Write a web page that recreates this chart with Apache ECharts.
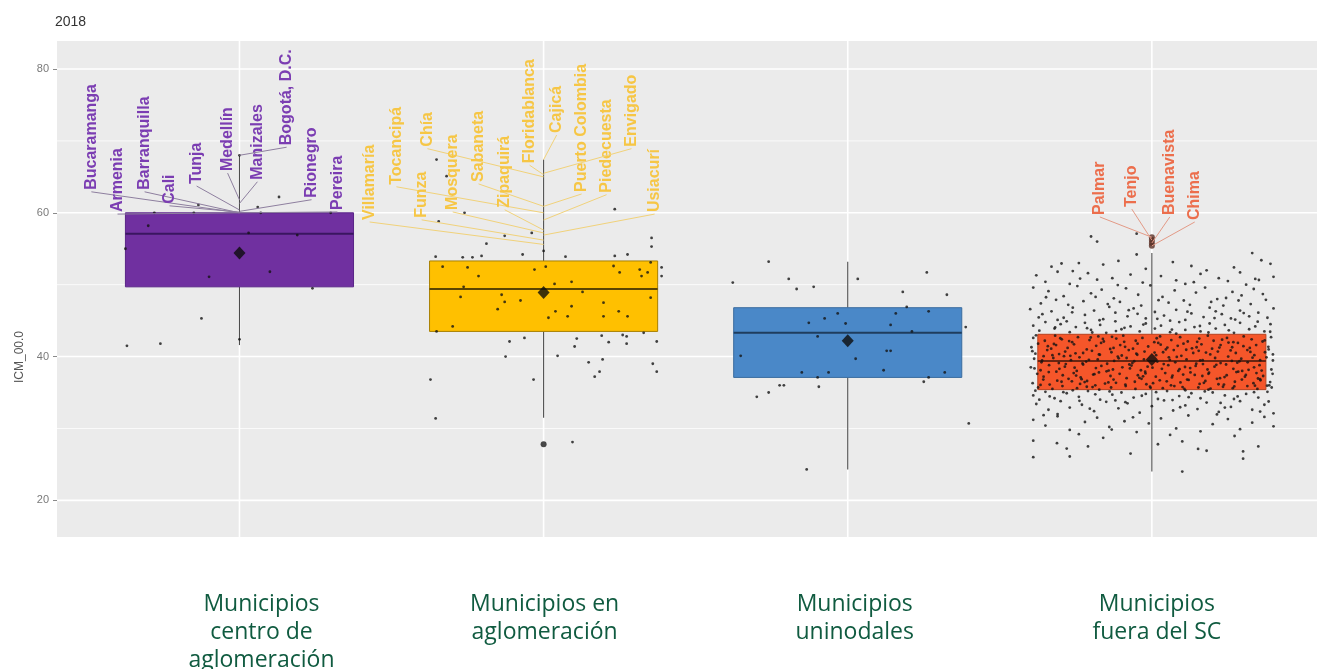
<!DOCTYPE html>
<html><head><meta charset="utf-8">
<script src="https://cdn.jsdelivr.net/npm/echarts@6/dist/echarts.min.js"></script>
<style>html,body{margin:0;padding:0;background:#fff}#c{width:1317px;height:669px}</style>
</head><body><div id="c"></div>
<script>
// ---------------- data ----------------
const categories = ['Municipios\ncentro de\naglomeración', 'Municipios en\naglomeración', 'Municipios\nuninodales', 'Municipios\nfuera del SC'];
const boxLow = [41.6, 31.5, 24.3, 24.0];
const boxQ1 = [49.7, 43.5, 37.1, 35.4];
const boxMedian = [57.1, 49.4, 43.3, 39.4];
const boxQ3 = [60.0, 53.3, 46.8, 43.1];
const boxHigh = [68.0, 67.4, 53.2, 54.4];
const means = [54.4, 48.9, 42.2, 39.6];
const outlierGroup = [2, 4, 4, 4, 4];
const outlierValue = [27.8, 56.6, 56.2, 55.8, 55.4];
const yTickValues = [20, 40, 60, 80];
const yMinorValues = [30, 50, 70];

// jittered points: [offset from category, value]
const purpleJitter = [[-0.37,41.5],[-0.26,41.8],[-0.125,45.3],[0,42.4],[-0.30,58.2],[-0.375,55.0],[-0.10,51.1],[0.10,51.8],[0.03,57.2],[0.19,56.9],[0.24,49.5],[-0.28,60.0],[-0.15,60.0],[0.07,60.0],[0.30,60.0],[0.06,60.8],[-0.135,61.1],[0.13,62.2],[0,68.0]];
const yellowJitter = [[-0.372,36.8],[-0.355,31.4],[-0.112,42.1],[-0.125,40.0],[-0.063,42.6],[-0.033,36.8],[0.046,40.1],[0.109,42.5],[0.102,41.4],[0.148,39.2],[0.194,39.6],[0.184,37.9],[0.168,37.2],[0.191,42.9],[0.214,42.0],[0.26,43.0],[0.273,42.8],[0.273,41.8],[0.329,43.3],[0.372,42.1],[0.359,39.0],[0.372,37.9],[0.095,28.1],[-0.352,43.5],
[-0.332,52.5],[-0.25,52.4],[-0.214,51.2],[-0.263,49.7],[-0.273,48.3],[-0.138,48.6],[-0.128,47.6],[-0.151,46.6],[-0.076,47.8],[-0.03,52.1],[0.007,52.5],[0.036,50.1],[0.092,50.4],[0.128,49.0],[0.039,46.3],[0.016,45.4],[0.079,45.6],[0.092,47.0],[0.197,47.5],[0.197,45.6],[0.247,46.3],[0.276,45.6],[0.23,52.6],[0.25,51.7],[0.316,52.1],[0.322,51.2],[0.342,51.7],[0.352,48.2],[-0.299,44.2],[0.352,53.1],[0.388,52.4],[0.388,51.2],
[-0.355,53.9],[-0.266,53.8],[-0.234,53.8],[-0.204,54.0],[-0.069,54.2],[0,54.7],[0.072,53.9],[0.234,54.0],[0.276,54.2],[0.355,55.3],[0.355,56.5],[-0.188,55.7],[-0.345,58.8],[-0.26,60.0],[-0.128,56.8],[-0.039,57.2],[0.234,60.5],[-0.352,67.4],[-0.319,65.1]];
const blueJitter = [[-0.26,53.2],[-0.378,50.3],[-0.194,50.8],[-0.168,49.4],[-0.112,49.7],[0.033,50.8],[0.26,51.7],[0.181,49.0],[0.326,48.6],[0.194,46.9],[0.266,46.3],[0.158,46.0],[-0.033,46.0],[-0.076,45.3],[-0.128,44.7],[-0.007,44.6],[0.141,44.4],[0.211,43.5],[0.388,44.1],[-0.099,42.8],[0.128,40.8],[0.141,40.8],[-0.352,40.1],[0.026,39.7],[-0.151,37.8],[-0.063,37.8],[0.118,38.1],[0.319,37.8],[-0.099,37.1],[0.266,37.1],[0.25,36.5],[-0.224,36.0],[-0.21,36.0],[-0.095,35.8],[-0.26,35.0],[-0.299,34.4],[0.398,30.7],[-0.135,24.3]];
const orangeAbove = [[-0.05,54.2],[0.33,54.4],[-0.24,53.0],[0.39,52.9],[0.36,53.4],[-0.33,52.5],[0.13,52.6],[-0.16,52.8],[-0.02,52.2],[0.18,52.0],[0.27,52.4],[-0.11,53.3],[-0.38,51.3],[-0.31,51.8],[-0.21,51.6],[-0.13,50.9],[-0.07,51.4],[0.03,51.2],[0.08,50.6],[0.16,51.5],[0.22,50.9],[0.29,51.7],[0.34,50.8],[0.40,51.1],[-0.35,50.4],[-0.27,50.1],[-0.18,50.7],[-0.03,50.3],[0.11,50.1],[0.25,50.5],[0.31,50.0],[-0.26,51.9],
[-0.39,49.6],[-0.34,49.1],[-0.29,48.4],[-0.245,49.8],[-0.20,48.8],[-0.165,49.3],[-0.125,48.1],[-0.085,49.5],[-0.045,48.6],[-0.005,49.9],[0.035,48.3],[0.075,49.2],[0.105,47.8],[0.145,48.9],[0.175,49.6],[0.215,48.0],[0.265,49.0],[0.295,48.5],[0.335,49.4],[0.375,47.9],[-0.365,47.4],[-0.315,47.9],[-0.275,47.2],[-0.225,47.7],[-0.145,47.3],[-0.105,47.6],[-0.035,47.1],[0.055,47.5],[0.125,47.2],[0.195,47.6],[0.235,47.1],[0.285,47.8],[0.325,47.3],[0.365,48.7],[-0.185,48.3],
[-0.40,46.6],[-0.36,45.9],[-0.33,46.3],[-0.29,45.4],[-0.26,46.8],[-0.22,45.8],[-0.19,46.4],[-0.16,45.2],[-0.12,46.1],[-0.08,45.6],[-0.06,46.7],[-0.02,45.3],[0.01,46.2],[0.04,45.7],[0.08,46.5],[0.11,45.1],[0.13,46.0],[0.17,45.5],[0.19,46.8],[0.23,45.9],[0.26,45.3],[0.29,46.4],[0.32,45.6],[0.35,46.1],[0.38,45.4],[0.40,46.7],[-0.31,45.1],[0.06,45.0],[0.21,46.3],[-0.14,46.9],
[-0.39,44.3],[-0.37,43.6],[-0.35,44.8],[-0.32,43.9],[-0.30,44.5],[-0.27,43.4],[-0.25,44.1],[-0.22,44.7],[-0.20,43.7],[-0.17,44.4],[-0.15,43.3],[-0.12,44.9],[-0.10,43.8],[-0.07,44.2],[-0.04,43.5],[-0.02,44.6],[0.01,43.9],[0.03,44.3],[0.06,43.4],[0.09,44.8],[0.11,43.7],[0.14,44.1],[0.16,43.5],[0.19,44.6],[0.21,43.9],[0.24,44.4],[0.27,43.3],[0.29,44.7],[0.32,43.8],[0.34,44.2],[0.37,43.5],[0.39,44.5],[-0.28,44.9],[0.08,43.2],[-0.09,44.0],
[-0.05,57.1],[-0.20,56.7],[-0.18,56.0]];
const orangeAbove2 = [[-0.372,45.45],[-0.318,44.05],[-0.262,46.15],[-0.213,43.95],[-0.172,45.05],[-0.118,43.55],[-0.076,46.45],[-0.028,44.45],[0.018,45.25],[0.066,43.75],[0.117,46.25],[0.158,44.25],[0.206,45.35],[0.253,43.65],[0.302,46.05],[0.348,44.85],[0.389,43.45],[-0.348,48.25],[-0.236,50.85],[-0.112,49.95],[0.022,47.85],[0.138,50.35],[0.244,48.15],[0.352,50.65],[-0.297,52.95],[0.069,53.15],[-0.196,43.35],[0.274,45.15],[0.186,43.35],[-0.047,45.95]];
const orangeBox = [[-0.39,42.6],[-0.352,42.2],[-0.318,42.9],[-0.296,42.4],[-0.262,42.0],[-0.243,42.7],[-0.205,42.3],[-0.176,42.8],[-0.158,42.1],[-0.117,42.5],[-0.094,42.9],[-0.053,42.2],[-0.031,42.6],[0.008,42.0],[0.027,42.8],[0.064,42.3],[0.093,42.7],[0.118,42.1],[0.156,42.5],[0.184,42.9],[0.203,42.2],[0.247,42.6],[0.268,42.0],[0.302,42.8],[0.328,42.4],[0.364,42.1],[0.392,42.7],
[-0.396,41.3],[-0.374,41.8],[-0.331,41.1],[-0.315,41.6],[-0.277,41.2],[-0.256,41.7],[-0.214,41.0],[-0.183,41.5],[-0.167,41.9],[-0.126,41.2],[-0.104,41.6],[-0.062,41.1],[-0.047,41.8],[-0.012,41.4],[0.021,41.9],[0.046,41.0],[0.085,41.5],[0.104,41.8],[0.147,41.3],[0.163,41.7],[0.198,41.1],[0.226,41.6],[0.264,41.3],[0.283,41.9],[0.322,41.2],[0.343,41.6],[0.384,41.0],
[-0.383,40.4],[-0.344,40.9],[-0.327,40.2],[-0.285,40.7],[-0.268,40.1],[-0.226,40.5],[-0.197,40.8],[-0.174,40.3],[-0.133,40.6],[-0.112,40.0],[-0.076,40.9],[-0.051,40.4],[-0.024,40.7],[0.014,40.2],[0.037,40.6],[0.072,40.9],[0.097,40.1],[0.136,40.5],[0.154,40.8],[0.192,40.3],[0.217,40.7],[0.251,40.0],[0.276,40.5],[0.314,40.9],[0.337,40.2],[0.372,40.6],[0.398,40.3],
[-0.387,39.7],[-0.363,39.2],[-0.324,39.8],[-0.306,39.1],[-0.266,39.5],[-0.238,39.9],[-0.216,39.3],[-0.178,39.6],[-0.147,39.0],[-0.124,39.4],[-0.083,39.8],[-0.064,39.1],[-0.026,39.6],[0.018,39.3],[0.056,39.9],[0.077,39.2],[0.114,39.6],[0.146,39.0],[0.167,39.5],[0.208,39.8],[0.226,39.1],[0.263,39.4],[0.294,39.7],[0.315,39.2],[0.356,39.5],[0.377,39.9],
[-0.398,38.5],[-0.366,38.1],[-0.338,38.8],[-0.304,38.3],[-0.286,38.6],[-0.247,38.0],[-0.226,38.9],[-0.184,38.4],[-0.166,38.7],[-0.128,38.2],[-0.097,38.5],[-0.074,38.9],[-0.036,38.1],[-0.014,38.6],[0.033,38.3],[0.054,38.8],[0.087,38.0],[0.126,38.4],[0.144,38.7],[0.183,38.2],[0.206,38.6],[0.244,38.9],[0.268,38.3],[0.297,38.0],[0.336,38.5],[0.354,38.8],[0.393,38.2],
[-0.377,37.6],[-0.356,37.2],[-0.314,37.9],[-0.293,37.4],[-0.257,37.7],[-0.234,37.1],[-0.193,37.5],[-0.174,37.8],[-0.136,37.3],[-0.106,37.6],[-0.083,37.0],[-0.046,37.4],[-0.022,37.9],[0.013,37.2],[0.044,37.7],[0.066,37.1],[0.103,37.5],[0.127,37.8],[0.166,37.3],[0.186,37.6],[0.224,37.0],[0.246,37.4],[0.284,37.9],[0.306,37.2],[0.344,37.7],[0.366,37.3],[0.397,37.6],
[-0.392,36.3],[-0.357,36.8],[-0.336,36.1],[-0.297,36.5],[-0.274,36.9],[-0.236,36.2],[-0.213,36.6],[-0.186,36.0],[-0.143,36.4],[-0.126,36.8],[-0.087,36.1],[-0.056,36.5],[-0.034,36.9],[0.004,36.3],[0.026,36.7],[0.063,36.0],[0.094,36.4],[0.116,36.8],[0.157,36.2],[0.176,36.6],[0.214,36.9],[0.237,36.1],[0.273,36.5],[0.296,36.8],[0.334,36.3],[0.357,36.7],[0.386,36.0],
[-0.374,35.7],[-0.327,35.5],[-0.294,35.9],[-0.246,35.6],[-0.214,35.8],[-0.173,35.4],[-0.134,35.7],[-0.086,35.9],[-0.054,35.5],[-0.006,35.8],[0.036,35.6],[0.074,35.9],[0.107,35.5],[0.153,35.7],[0.186,35.4],[0.234,35.8],[0.266,35.6],[0.314,35.9],[0.347,35.5],[0.394,35.7]];
const orangeBox2 = [[-0.381,42.95],[-0.342,41.45],[-0.305,40.35],[-0.283,38.95],[-0.249,37.35],[-0.221,36.45],[-0.195,35.75],[-0.161,42.45],[-0.137,41.05],[-0.109,39.75],[-0.072,38.35],[-0.041,37.05],[-0.018,36.15],[0.016,42.55],[0.051,41.25],[0.082,39.95],[0.109,38.55],[0.141,37.45],[0.171,36.35],[0.193,35.55],[0.231,42.35],[0.259,40.85],[0.288,39.35],[0.318,38.15],[0.349,36.95],[0.379,35.95],
[-0.393,40.75],[-0.361,39.45],[-0.339,37.85],[-0.311,36.65],[-0.272,42.15],[-0.251,40.45],[-0.228,39.05],[-0.189,37.55],[-0.154,36.25],[-0.131,42.75],[-0.099,40.15],[-0.067,38.75],[-0.029,37.25],[-0.004,35.65],[0.029,41.65],[0.059,39.55],[0.091,38.25],[0.121,36.75],[0.149,42.05],[0.178,40.55],[0.212,38.85],[0.239,37.15],[0.271,35.85],[0.301,41.45],[0.331,39.85],[0.361,38.05],[0.389,36.45],
[-0.386,38.35],[-0.366,36.05],[-0.322,41.75],[-0.289,40.05],[-0.254,38.45],[-0.231,36.85],[-0.201,42.65],[-0.171,40.25],[-0.142,38.05],[-0.118,36.35],[-0.088,41.35],[-0.058,39.35],[-0.021,37.65],[0.009,40.55],[0.039,38.95],[0.068,37.35],[0.101,35.75],[0.132,41.15],[0.159,39.45],[0.188,37.75],[0.219,36.15],[0.252,41.95],[0.281,39.15],[0.309,37.45],[0.339,35.95],[0.371,42.25],[0.398,39.45],
[-0.356,40.05],[-0.301,42.55],[-0.263,36.55],[-0.207,39.55],[-0.149,37.95],[-0.091,42.05],[-0.048,40.25],[0.002,38.45],[0.049,36.55],[0.113,40.95],[0.168,38.95],[0.222,41.25],[0.278,37.85],[0.324,40.65],[0.356,36.85],[0.383,41.35]];
const orangeBelow = [[-0.39,34.6],[-0.35,35.1],[-0.32,34.2],[-0.28,34.9],[-0.24,34.4],[-0.21,35.2],[-0.17,34.0],[-0.13,34.7],[-0.10,35.0],[-0.06,34.3],[-0.02,34.8],[0.02,34.1],[0.05,35.2],[0.09,34.5],[0.13,34.9],[0.16,34.2],[0.20,35.0],[0.24,34.6],[0.27,34.1],[0.31,34.8],[0.35,34.3],[0.38,35.1],[-0.26,35.3],[0.11,35.3],[-0.37,34.0],
[-0.38,33.4],[-0.34,32.6],[-0.30,33.8],[-0.27,32.9],[-0.23,33.3],[-0.19,32.4],[-0.15,33.7],[-0.11,32.8],[-0.08,33.5],[-0.04,32.2],[0.00,33.1],[0.04,33.9],[0.07,32.5],[0.11,33.2],[0.15,32.7],[0.18,33.6],[0.22,32.3],[0.26,33.0],[0.29,33.8],[0.33,32.6],[0.37,33.3],[0.40,32.1],[-0.12,33.9],[0.24,32.9],[-0.31,32.0],
[-0.39,31.2],[-0.35,30.4],[-0.31,31.7],[-0.27,29.8],[-0.22,30.9],[-0.18,31.5],[-0.14,30.2],[-0.09,31.0],[-0.05,29.5],[-0.01,30.7],[0.03,31.4],[0.08,30.0],[0.12,31.8],[0.16,29.6],[0.20,30.6],[0.25,31.3],[0.29,29.9],[0.33,30.8],[0.37,31.6],[0.40,30.3],[-0.24,29.2],[0.06,29.1],
[-0.39,28.3],[-0.28,27.2],[-0.16,28.7],[-0.07,26.5],[0.02,27.8],[0.10,28.2],[0.18,26.9],[0.30,26.8],[0.35,27.5],[-0.39,26.0],[-0.27,26.1],[-0.21,27.5],[0.10,24.0],[0.30,25.8]];
const orangeBelow2 = [[-0.383,35.25],[-0.336,34.45],[-0.291,35.05],[-0.238,33.85],[-0.186,34.75],[-0.139,35.15],[-0.087,33.65],[-0.033,34.55],[0.014,35.05],[0.068,33.95],[0.121,34.35],[0.174,35.15],[0.226,33.55],[0.282,34.45],[0.336,35.05],[0.384,33.75],[-0.356,31.85],[-0.204,32.75],[-0.062,31.55],[0.093,32.95],[0.214,31.95],[0.356,32.35],[-0.132,29.85],[0.272,28.95],[-0.312,27.95],[0.152,27.15]];

// repelled labels: names and the value each one points at
const labelNames = [
  ['Bucaramanga','Armenia','Barranquilla','Cali','Tunja','Medellín','Manizales','Bogotá, D.C.','Rionegro','Pereira'],
  ['Villamaría','Tocancipá','Funza','Chía','Mosquera','Sabaneta','Zipaquirá','Floridablanca','Cajicá','Puerto Colombia','Piedecuesta','Envigado','Usiacurí'],
  [],
  ['Palmar','Tenjo','Buenavista','Chima']
];
const labelTargets = [
  [60.0,60.0,60.0,60.1,60.4,61.8,61.3,68.0,60.2,60.0],
  [55.6,60.0,56.2,65.0,57.2,60.9,57.6,65.3,67.4,60.9,59.0,65.5,56.9],
  [],
  [56.6,56.2,55.8,55.4]
];
// label placement (repel layout): offset from category, value at the label's lower end
const labelLayoutDx = [
  [-0.487,-0.401,-0.312,-0.230,-0.141,-0.039,0.059,0.155,0.237,0.322],
  [-0.572,-0.484,-0.401,-0.382,-0.299,-0.214,-0.128,-0.046,0.043,0.125,0.207,0.289,0.365],
  [],
  [-0.171,-0.066,0.059,0.141]
];
const labelLayoutBase = [
  [63.2,60.1,63.2,61.25,64.0,65.8,64.6,69.4,62.1,60.4],
  [59.0,63.9,59.3,69.2,60.4,64.3,60.7,66.9,71.1,62.9,62.8,69.2,60.1],
  [],
  [59.7,60.8,59.7,59.0]
];

// ---------------- styles ----------------
const X_MIN = 0.4, X_MAX = 4.543, Y_MIN = 14.9, Y_MAX = 83.9;
const fills = ['#7030a0', '#ffc000', '#4a88c8', '#f5562a'];
const borders = ['#5a2588', '#a77f00', '#3a6c9f', '#b9421f'];
const medians = ['#3a1660', '#5c4500', '#1f3d5e', '#6a2512'];
const labelColors = ['#7b3db2', '#f6c645', null, '#ec6e4c'];
const segColors = ['#8e7f9f', '#f1d27a', null, '#e39a86'];
const labelOffsets = [22, 1, 7, 5];

const chart = echarts.init(document.getElementById('c'), null, {renderer: 'canvas'});

const gridData = [];
yTickValues.forEach(v => gridData.push([0, v]));
yMinorValues.forEach(v => gridData.push([1, v]));
[1, 2, 3, 4].forEach(c => gridData.push([2, c]));

const boxData = categories.map((c, i) => [i + 1, boxLow[i], boxQ1[i], boxMedian[i], boxQ3[i], boxHigh[i]]);

const jitterData = [];
[purpleJitter, yellowJitter, blueJitter, orangeAbove.concat(orangeAbove2, orangeBox, orangeBox2, orangeBelow, orangeBelow2)].forEach((arr, i) => {
  arr.forEach(([dx, v]) => jitterData.push([i + 1 + dx, v]));
});

const labelData = [];
const labelMeta = [];
labelNames.forEach((names, g) => {
  names.forEach((n, k) => {
    labelData.push([g + 1 + labelLayoutDx[g][k], labelLayoutBase[g][k], g + 1, labelTargets[g][k]]);
    labelMeta.push({name: n, g: g});
  });
});

const catRich = {};
labelOffsets.forEach((o, i) => {
  catRich['c' + i] = {padding: [0, 0, 0, o * 2], fontSize: 23, lineHeight: 28, color: '#105b40', fontFamily: '"Open Sans", "Noto Sans", sans-serif'};
});

chart.setOption({
  animation: false,
  backgroundColor: '#ffffff',
  grid: {left: 57, right: 0, top: 41, bottom: 132, show: true, backgroundColor: '#ebebeb', borderWidth: 0, containLabel: false, outerBoundsMode: 'none'},
  xAxis: {
    type: 'value', min: X_MIN, max: X_MAX,
    axisLine: {show: false}, axisTick: {show: false}, splitLine: {show: false},
    axisLabel: {
      customValues: [1, 2, 3, 4], margin: 53,
      formatter: v => {
        const i = Math.round(v) - 1;
        return categories[i].split('\n').map(s => '{c' + i + '|' + s + '}').join('\n');
      },
      rich: catRich
    }
  },
  yAxis: {
    type: 'value', min: Y_MIN, max: Y_MAX,
    axisLine: {show: false}, splitLine: {show: false},
    axisTick: {show: true, customValues: yTickValues, length: 4, lineStyle: {color: '#8a8a8a', width: 1}},
    axisLabel: {customValues: yTickValues, margin: 8, color: '#7a7a7a', fontSize: 11, fontFamily: '"Liberation Sans", Arial, sans-serif'}
  },
  graphic: [
    {type: 'text', left: 55, top: 15, style: {text: '2018', fill: '#333', font: '14px "Liberation Sans", Arial, sans-serif'}},
    {type: 'text', x: 20, y: 357, rotation: Math.PI / 2, style: {text: 'ICM_00.0', fill: '#555', font: '12px "Liberation Sans", Arial, sans-serif', align: 'center', verticalAlign: 'middle'}}
  ],
  series: [
    {
      type: 'custom', silent: true, z: 1, data: gridData,
      renderItem: (params, api) => {
        const kind = api.value(0), v = api.value(1);
        let p0, p1;
        if (kind === 2) { p0 = api.coord([v, Y_MIN]); p1 = api.coord([v, Y_MAX]); }
        else { p0 = api.coord([X_MIN, v]); p1 = api.coord([X_MAX, v]); }
        return {type: 'line', shape: {x1: p0[0], y1: p0[1], x2: p1[0], y2: p1[1]},
          style: {stroke: '#ffffff', lineWidth: kind === 1 ? 0.8 : 1.6}};
      }
    },
    {
      type: 'custom', silent: true, z: 2, data: boxData,
      encode: {x: 0, y: [1, 2, 3, 4, 5]},
      renderItem: (params, api) => {
        const i = params.dataIndex;
        const x = api.value(0), hw = 0.375;
        const low = api.coord([x, api.value(1)]);
        const q1 = api.coord([x, api.value(2)]);
        const med = api.coord([x, api.value(3)]);
        const q3 = api.coord([x, api.value(4)]);
        const high = api.coord([x, api.value(5)]);
        const l = api.coord([x - hw, api.value(4)]);
        const r = api.coord([x + hw, api.value(2)]);
        return {type: 'group', children: [
          {type: 'line', shape: {x1: low[0], y1: low[1], x2: q1[0], y2: q1[1]}, style: {stroke: '#4d4d4d', lineWidth: 1.1}},
          {type: 'line', shape: {x1: q3[0], y1: q3[1], x2: high[0], y2: high[1]}, style: {stroke: '#4d4d4d', lineWidth: 1.1}},
          {type: 'rect', shape: {x: l[0], y: l[1], width: r[0] - l[0], height: r[1] - l[1]}, style: {fill: fills[i], stroke: borders[i], lineWidth: 1}},
          {type: 'line', shape: {x1: l[0], y1: med[1], x2: r[0], y2: med[1]}, style: {stroke: medians[i], lineWidth: 2}}
        ]};
      }
    },
    {
      type: 'scatter', z: 3, silent: true, data: jitterData,
      symbol: 'circle', symbolSize: 2.8,
      itemStyle: {color: '#141414', opacity: 0.8}
    },
    {
      type: 'scatter', z: 4, silent: true,
      data: means.map((m, i) => [i + 1, m]),
      symbol: 'diamond', symbolSize: [12, 13],
      itemStyle: {color: '#0d0d0d'}
    },
    {
      type: 'scatter', z: 4, silent: true,
      data: outlierValue.map((v, i) => [outlierGroup[i], v]),
      symbolSize: 6,
      itemStyle: {color: p => p.data[0] === 4 ? '#5a2f26' : '#1c1c1c'}
    },
    {
      type: 'custom', silent: true, z: 5, data: labelData,
      renderItem: (params, api) => {
        const meta = labelMeta[params.dataIndex];
        const a = api.coord([api.value(0), api.value(1)]);
        const b = api.coord([api.value(2), api.value(3)]);
        return {type: 'group', children: [
          {type: 'line', shape: {x1: a[0], y1: a[1] + 2, x2: b[0], y2: b[1]}, style: {stroke: segColors[meta.g], lineWidth: 1}},
          {type: 'text', x: a[0], y: a[1], rotation: Math.PI / 2,
            style: {text: meta.name, fill: labelColors[meta.g], font: 'bold 16px "Liberation Sans", Arial, sans-serif', align: 'left', verticalAlign: 'middle'}}
        ]};
      }
    }
  ]
});
</script>
</body></html>
